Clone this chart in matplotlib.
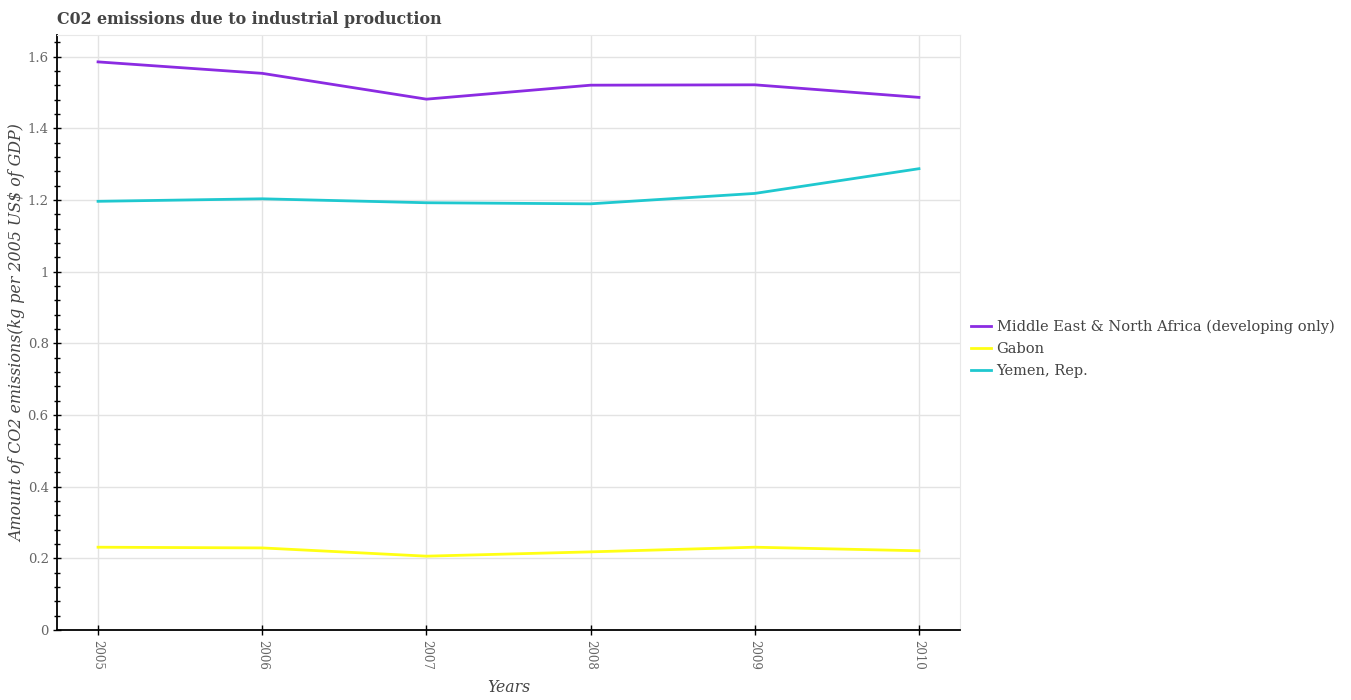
import matplotlib
matplotlib.use("Agg")
import matplotlib.pyplot as plt
from matplotlib.ticker import MultipleLocator

years = [2005, 2006, 2007, 2008, 2009, 2010]
mena = [1.585, 1.553, 1.481, 1.520, 1.521, 1.486]
gabon = [0.231, 0.229, 0.206, 0.218, 0.231, 0.221]
yemen = [1.196, 1.203, 1.192, 1.189, 1.218, 1.287]
labels = ["Middle East & North Africa (developing only)", "Gabon", "Yemen, Rep."]
colors = ["#8B2BE2", "#FFFF14", "#1FC8CF"]

plt.rcParams['font.family'] = ['DejaVu Serif']
W, H = 1351, 700
fig = plt.figure(figsize=(W / 100, H / 100), dpi=100)
ax = fig.add_axes([57 / W, 70 / H, (960 - 57) / W, (630 - 35) / H])

for vals, lab, c in zip([mena, gabon, yemen], labels, colors):
    ax.plot(years, vals, color=c, lw=2, label=lab)

ax.set_xlim(2004.75, 2010.25)
ax.set_ylim(0, 1.66)
ax.set_xticks(years)
ax.set_xticklabels([str(y) for y in years], rotation=-90, fontsize=8.5, color="#666666")
ax.yaxis.set_minor_locator(MultipleLocator(0.04))
ax.set_yticks([0, 0.2, 0.4, 0.6, 0.8, 1.0, 1.2, 1.4, 1.6])
ax.set_yticklabels(["0", "0.2", "0.4", "0.6", "0.8", "1", "1.2", "1.4", "1.6"], fontsize=9.5, color="#666666")
ax.tick_params(axis='y', which='major', length=6, width=1, direction='inout', pad=3)
ax.tick_params(axis='y', which='minor', length=5, width=1, direction='inout')
ax.tick_params(axis='x', which='major', length=7, width=1, direction='inout', pad=4)
ax.grid(True, which='major', color="#e3e3e3", lw=1)
ax.set_axisbelow(True)
for s in ['top', 'right']:
    ax.spines[s].set_color("#e8e8e8")
for s in ['left', 'bottom']:
    ax.spines[s].set_color("black")
    ax.spines[s].set_linewidth(1.3)

renderer = fig.canvas.get_renderer()

def fit(t, target_px, horizontal=True):
    bb = t.get_window_extent(renderer)
    cur = bb.width if horizontal else bb.height
    t.set_fontsize(t.get_fontsize() * target_px / cur)

ylab = fig.text(18 / W, 1 - 333 / H, "Amount of CO2 emissions(kg per 2005 US$ of GDP)", fontsize=10,
                style='italic', color="#444444", rotation=90, va='center', ha='center')
fit(ylab, 418, horizontal=False)
xlab = fig.text(509 / W, 1 - 687 / H, "Years", fontsize=12, style='italic', color="#444444",
                va='center', ha='center')
fit(xlab, 43)

title = fig.text(57 / W, 1 - 20 / H, "C02 emissions due to industrial production", fontsize=11.5,
                 fontweight='bold', color="#444444", va='center', ha='left')
fit(title, 388)

leg = fig.legend(*ax.get_legend_handles_labels(), loc='center left', bbox_to_anchor=(971 / W, 1 - 349 / H),
                 frameon=False, fontsize=10.5, handlelength=1.4, handletextpad=0.35, labelspacing=0.55,
                 borderpad=0, borderaxespad=0)
for t in leg.get_texts():
    t.set_color("#444444")

fig.savefig("out.png", dpi=100)
